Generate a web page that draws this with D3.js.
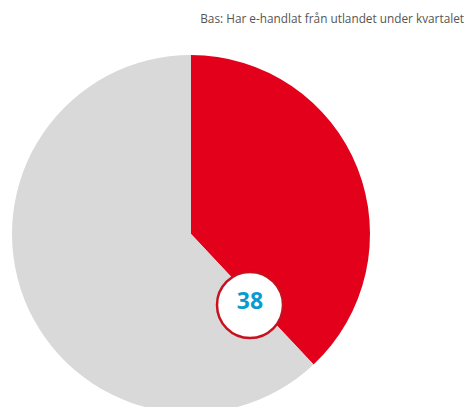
<!DOCTYPE html>
<html><head><meta charset="utf-8">
<script src="https://cdn.jsdelivr.net/npm/d3@7"></script>
<style>html,body{margin:0;padding:0;background:#fff;overflow:hidden}</style>
</head><body>
<svg id="c" width="466" height="407"></svg>
<script>
const categories = ["Ja", "Nej"];
const values = [38, 62];
const labelValue = "38";
const baseText = "Bas: Har e-handlat från utlandet under kvartalet";
const colors = ["#e2001a", "#d9d9d9"];

const svg = d3.select("#c");
const cx = 191, cy = 234, r = 179;
const pie = d3.pie().sort(null).value(d => d)(values);
const arc = d3.arc().innerRadius(0).outerRadius(r);
const g = svg.append("g").attr("transform", `translate(${cx},${cy})`);
g.selectAll("path").data(pie).join("path")
  .attr("d", arc).attr("fill", (d, i) => colors[i]);

svg.append("text").attr("x", 464).attr("y", 23)
  .attr("text-anchor", "end").attr("font-family", "Open Sans, sans-serif")
  .attr("font-size", 11.8).attr("fill", "#555").text(baseText);

const lg = svg.append("g").attr("transform", "translate(250,305)");
lg.append("circle").attr("r", 33).attr("fill", "#fff").attr("stroke", "#c8101e").attr("stroke-width", 2.5);
lg.append("text").attr("text-anchor", "middle").attr("dy", "0.35em").attr("y", -4)
  .attr("font-family", "Open Sans, sans-serif").attr("font-weight", "bold")
  .attr("font-size", 23).attr("fill", "#0a9ad2").text(labelValue);
</script>
</body></html>
